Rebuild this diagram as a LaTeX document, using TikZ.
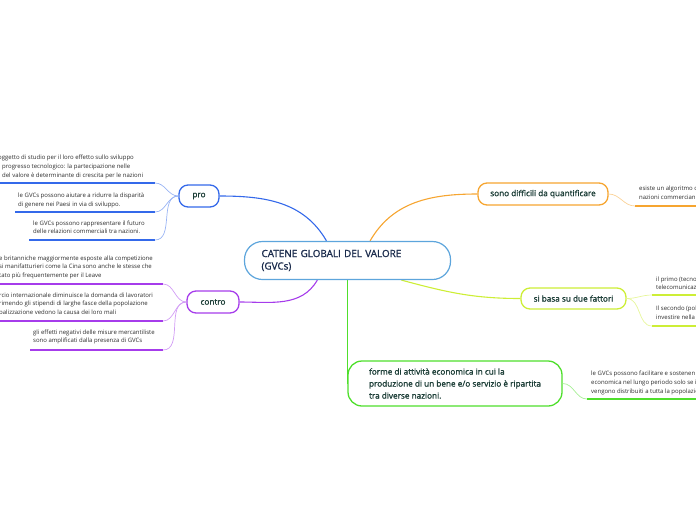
\documentclass[tikz,border=0pt]{standalone}
\usepackage{fontspec}
\setmainfont{Open Sans}
\newfontfamily\semibold[FakeBold=1.3]{Open Sans}
\usetikzlibrary{positioning, backgrounds}
\definecolor{cText}{HTML}{2B2B2B}
\definecolor{cDark}{HTML}{1B3D36}
\definecolor{cNavy}{HTML}{1A2B4C}
\definecolor{cCentral}{HTML}{5DA5DC}
\definecolor{cBlue}{HTML}{3469EA}
\definecolor{cPurple}{HTML}{A63CEB}
\definecolor{cOrange}{HTML}{F6A530}
\definecolor{cLime}{HTML}{CDEE36}
\definecolor{cGreen}{HTML}{4FDF2C}

\begin{document}
\begin{tikzpicture}[x=1pt, y=-1pt,
  topic/.style={draw=#1, fill=white, rounded corners=9pt, line width=1.3pt,
    inner sep=0pt, text=cDark, font=\semibold\fontsize{8.2}{12}\selectfont},
  leaf/.style={inner sep=0pt, anchor=north west, align=left, text=cText,
    font=\fontsize{6}{8.7}\selectfont},
  uline/.style={draw=#1, line width=1.8pt},
  twig/.style={draw=#1!50, line width=0.7pt},
  branch/.style={draw=#1, line width=1.1pt}
]
  \useasboundingbox (0,0) rectangle (696,520);
  \clip (0,0) rectangle (696,520);

  \node[draw=cCentral, fill=white, rounded corners=18pt, line width=1.2pt,
    minimum width=206pt, minimum height=38pt, text width=172pt,
    inner xsep=17pt, inner ysep=0pt, align=left, text=cNavy,
    font=\semibold\fontsize{9.9}{12.5}\selectfont] (gvc) at (347.5,260.5)
    {CATENE GLOBALI DEL VALORE\\(GVCs)};

  \node[topic=cBlue, minimum width=40pt, minimum height=22pt] (pro) at (199,196) {pro};
  \node[topic=cPurple, minimum width=52pt, minimum height=22pt] (contro) at (213,302) {contro};
  \node[topic=cOrange, minimum width=130pt, minimum height=22pt] (quant) at (543,194)
    {sono difficili da quantificare};
  \node[topic=cLime, minimum width=105pt, minimum height=21pt] (fattori) at (573.5,298.5)
    {si basa su due fattori};
  \node[topic=cGreen, rounded corners=14pt, minimum width=214pt, minimum height=45pt,
    align=left] (forme) at (455,383.5)
    {forme di attività economica in cui la\\produzione di un bene e/o servizio è ripartita\\tra diverse nazioni.};

  \begin{scope}[on background layer]
    \draw[branch=cBlue] (gvc.137) to[out=120, in=0] (pro.east);
    \draw[branch=cPurple] (gvc.213) to[out=240, in=0] (contro.east);
    \draw[branch=cOrange] (gvc.41) to[out=60, in=180] (quant.west);
    \draw[branch=cLime] (gvc.-20) to[out=-15, in=180] (fattori.west);
    \draw[branch=cGreen] (gvc.south) -- (gvc.south |- forme.west);
  \end{scope}

  % pro
  \node[leaf] (pro1) at (-2,155) {oggetto di studio per il loro effetto sullo sviluppo\\
    \hspace*{4pt}progresso tecnologico: la partecipazione nelle\\
    \hspace*{4pt}del valore è determinante di crescita per le nazioni};
  \node[leaf] (pro2) at (18,192.5) {le GVCs possono aiutare a ridurre la disparità\\
    di genere nei Paesi in via di sviluppo.};
  \node[leaf] (pro3) at (33,220.5) {le GVCs possono rappresentare il futuro\\
    delle relazioni commerciali tra nazioni.};
  \coordinate (pro1l) at (0,183);   \coordinate (pro1r) at (155,183);
  \coordinate (pro2l) at (15,212);  \coordinate (pro2r) at (155,212);
  \coordinate (pro3l) at (29,240);  \coordinate (pro3r) at (155,240);
  \draw[uline=cBlue] (pro1l) -- (pro1r);
  \draw[uline=cBlue] (pro2l) -- (pro2r);
  \draw[uline=cBlue] (pro3l) -- (pro3r);
  \draw[twig=cBlue] (pro.west) to[out=180, in=0] (pro1r);
  \draw[twig=cBlue] (pro.west) to[out=180, in=0] (pro2r);
  \draw[twig=cBlue] (pro.west) to[out=180, in=0] (pro3r);

  % contro
  \node[leaf] (con1) at (-1,255.5) {e britanniche maggiormente esposte alla competizione\\
    si manifatturieri come la Cina sono anche le stesse che\\
    tato più frequentemente per il Leave};
  \node[leaf] (con2) at (-1,292.5) {rcio internazionale diminuisce la domanda di lavoratori\\
    rimendo gli stipendi di larghe fasce della popolazione\\
    balizzazione vedono la causa dei loro mali};
  \node[leaf] (con3) at (33,329.5) {gli effetti negativi delle misure mercantiliste\\
    sono amplificati dalla presenza di GVCs};
  \coordinate (con1l) at (0,284);   \coordinate (con1r) at (163,284);
  \coordinate (con2l) at (0,321);   \coordinate (con2r) at (163,321);
  \coordinate (con3l) at (30,350);  \coordinate (con3r) at (163,350);
  \draw[uline=cPurple] (con1l) -- (con1r);
  \draw[uline=cPurple] (con2l) -- (con2r);
  \draw[uline=cPurple] (con3l) -- (con3r);
  \draw[twig=cPurple] (contro.west) to[out=180, in=0] (con1r);
  \draw[twig=cPurple] (contro.west) to[out=180, in=0] (con2r);
  \draw[twig=cPurple] (contro.west) to[out=180, in=0] (con3r);

  % right side
  \node[leaf] (qua1) at (639,186) {esiste un algoritmo c\\nazioni commercian};
  \coordinate (qua1l) at (635,206); \coordinate (qua1r) at (700,206);
  \draw[uline=cOrange] (qua1l) -- (qua1r);
  \draw[twig=cOrange] (quant.east) to[out=0, in=180] (qua1l);

  \node[leaf] (fat1) at (656,276.5) {il primo (tecno\\telecomunicaz};
  \node[leaf] (fat2) at (656,306) {Il secondo (pol\\investire nella};
  \coordinate (fat1l) at (652,295); \coordinate (fat1r) at (700,295);
  \coordinate (fat2l) at (652,326); \coordinate (fat2r) at (700,326);
  \draw[uline=cLime] (fat1l) -- (fat1r);
  \draw[uline=cLime] (fat2l) -- (fat2r);
  \draw[twig=cLime] (fattori.east) to[out=0, in=180] (fat1l);
  \draw[twig=cLime] (fattori.east) to[out=0, in=180] (fat2l);

  \node[leaf] (for1) at (591,371) {le GVCs possono facilitare e sostenen\\
    economica nel lungo periodo solo se i\\vengono distribuiti a tutta la popolazio};
  \coordinate (for1l) at (587,399); \coordinate (for1r) at (700,399);
  \draw[uline=cGreen] (for1l) -- (for1r);
  \draw[twig=cGreen] (forme.east) to[out=0, in=180] (for1l);
\end{tikzpicture}
\end{document}
